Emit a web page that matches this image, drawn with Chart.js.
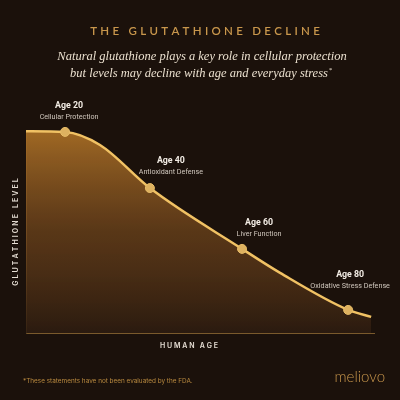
<!DOCTYPE html>
<html>
<head>
<meta charset="utf-8">
<script src="https://cdn.jsdelivr.net/npm/chart.js@4.4.1/dist/chart.umd.min.js"></script>
<style>
  html, body { margin: 0; padding: 0; background: #1b110b; }
  #wrap { width: 400px; height: 400px; position: relative; }
</style>
</head>
<body>
<div id="wrap"><canvas id="glutChart" width="400" height="400"></canvas></div>
<script>
// positions along the age axis (0-100) and level (0-100)
const agePos = [0, 11.2, 21.2, 35.5, 61.9, 72.8, 92.3, 98.9];
const levels = [86.6, 86.3, 80.7, 62.2, 36.1, 25.8, 9.9, 6.9];
const ageLabels = ["", "Age 20", "", "Age 40", "Age 60", "", "Age 80", ""];
const stageLabels = ["", "Cellular Protection", "", "Antioxidant Defense", "Liver Function", "", "Oxidative Stress Defense", ""];

const title = "THE GLUTATHIONE DECLINE";
const subtitle = [
  "Natural glutathione plays a key role in cellular protection",
  "but levels may decline with age and everyday stress"
];
const xTitle = "HUMAN AGE";
const yTitle = "GLUTATHIONE LEVEL";
const footnote = "*These statements have not been evaluated by the FDA.";
const brand = "meliovo";

// label nudges (x px right, y px above point), keyed by label index
const labelDx = { 1: 4, 3: 21, 4: 17, 6: 2 };
const labelDy = { 1: 26, 3: 27, 4: 26, 6: 35 };

function spacedText(ctx, text, cx, cy, spacing) {
  let w = 0;
  for (const ch of text) w += ctx.measureText(ch).width + spacing;
  w -= spacing;
  let x = cx - w / 2;
  ctx.textAlign = "left";
  for (const ch of text) {
    ctx.fillText(ch, x, cy);
    x += ctx.measureText(ch).width + spacing;
  }
}

const decorPlugin = {
  id: "decor",
  beforeDatasetsDraw(chart) {
    const { ctx, chartArea, scales } = chart;
    const y0 = scales.y.getPixelForValue(levels[0]);
    ctx.save();
    ctx.strokeStyle = "#7a5a2c";
    ctx.lineWidth = 1;
    ctx.beginPath();
    ctx.moveTo(chartArea.left + 0.5, y0);
    ctx.lineTo(chartArea.left + 0.5, chartArea.bottom + 0.5);
    ctx.lineTo(chartArea.right, chartArea.bottom + 0.5);
    ctx.stroke();
    ctx.restore();
  },
  afterDraw(chart) {
    const { ctx, scales } = chart;
    ctx.save();
    ctx.textBaseline = "middle";

    // title
    ctx.fillStyle = "#c9974c";
    ctx.font = "600 11.5px Lato";
    spacedText(ctx, title, 205, 31, 3.3);

    // subtitle
    ctx.fillStyle = "#ebe0cf";
    ctx.font = "italic 12.5px 'Liberation Serif'";
    ctx.textAlign = "center";
    ctx.fillText(subtitle[0], 202, 57);
    ctx.fillText(subtitle[1], 199, 74);
    const w2 = ctx.measureText(subtitle[1]).width;
    ctx.font = "italic 7px 'Liberation Serif'";
    ctx.textAlign = "left";
    ctx.fillText("*", 199 + w2 / 2 + 0.5, 70);

    // point labels
    for (let i = 0; i < agePos.length; i++) {
      if (!ageLabels[i]) continue;
      const px = scales.x.getPixelForValue(agePos[i]) + labelDx[i];
      const py = scales.y.getPixelForValue(levels[i]) - labelDy[i];
      ctx.textAlign = "center";
      ctx.fillStyle = "#f2ece4";
      ctx.font = "bold 8.8px Roboto";
      ctx.fillText(ageLabels[i], px, py);
      ctx.fillStyle = "#cfc6bc";
      ctx.font = "7.2px Roboto";
      ctx.fillText(stageLabels[i], px, py + 11);
    }

    // axis titles
    ctx.fillStyle = "#e6ded4";
    ctx.font = "600 7px Inter";
    spacedText(ctx, xTitle, 189, 346, 1.8);
    ctx.save();
    ctx.translate(16, 232);
    ctx.rotate(-Math.PI / 2);
    spacedText(ctx, yTitle, 0, 0, 2.1);
    ctx.restore();

    // footer
    ctx.fillStyle = "#b8893f";
    ctx.font = "6.4px Inter";
    ctx.textAlign = "left";
    ctx.fillText(footnote, 23, 381);
    ctx.fillStyle = "#c9974c";
    ctx.font = "300 15px Lato";
    ctx.textAlign = "right";
    ctx.fillText(brand, 385, 377);
    ctx.restore();
  }
};

const ctx = document.getElementById("glutChart").getContext("2d");

new Chart(ctx, {
  type: "line",
  data: {
    datasets: [{
      data: agePos.map((x, i) => ({ x: x, y: levels[i] })),
      borderColor: "#f1c264",
      borderWidth: 2.5,
      fill: "origin",
      backgroundColor: (c) => {
        const area = c.chart.chartArea;
        if (!area) return "rgba(140,90,30,0.6)";
        const g = c.chart.ctx.createLinearGradient(0, area.top + 30, 0, area.bottom);
        g.addColorStop(0, "rgba(168,110,38,0.95)");
        g.addColorStop(0.5, "rgba(110,68,28,0.75)");
        g.addColorStop(1, "rgba(45,28,16,0.9)");
        return g;
      },
      cubicInterpolationMode: "monotone",
      pointRadius: ageLabels.map(l => l ? 4.5 : 0),
      pointBackgroundColor: "#deb260",
      pointBorderColor: "#e8bd68",
      pointBorderWidth: 1
    }]
  },
  options: {
    responsive: false,
    animation: false,
    layout: { padding: { left: 26, right: 25, top: 100, bottom: 67 } },
    scales: {
      x: { type: "linear", min: 0, max: 100, display: false },
      y: { min: 0, max: 100, display: false }
    },
    plugins: {
      legend: { display: false },
      tooltip: { enabled: false }
    }
  },
  plugins: [decorPlugin]
});
</script>
</body>
</html>
